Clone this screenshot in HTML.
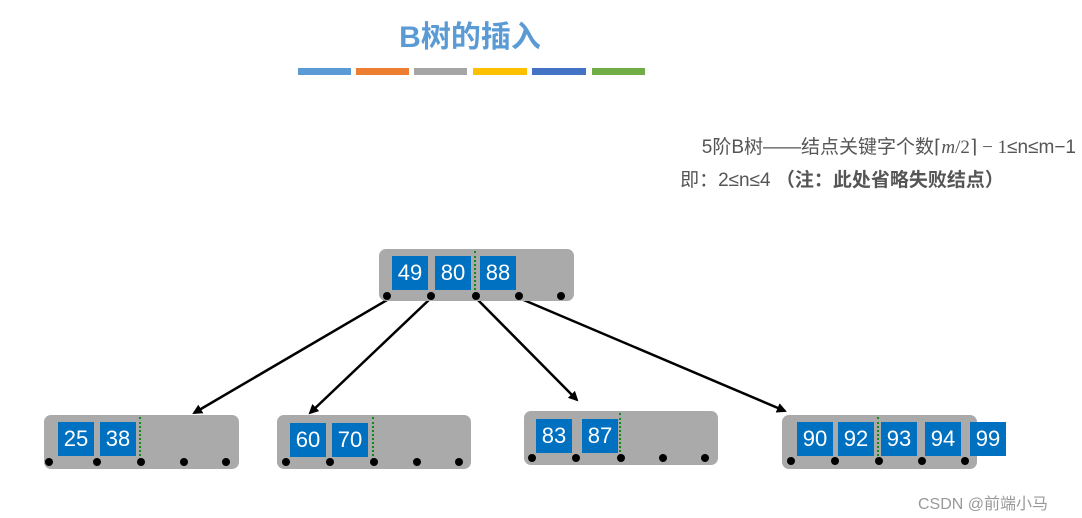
<!DOCTYPE html>
<html><head><meta charset="utf-8"><style>
body{margin:0;width:1082px;height:518px;background:#fff;position:relative;overflow:hidden;font-family:"Liberation Sans","Noto Sans CJK SC",sans-serif}
.a{position:absolute}
.box{position:absolute;background:#aaaaaa;border-radius:7px}
.k{position:absolute;width:36px;height:34px;background:#0070c0;color:#fff;font-size:22px;line-height:34px;text-align:center}
.d{position:absolute;width:8px;height:8px;border-radius:50%;background:#000}
.v{position:absolute;width:0;border-left:2px dotted #138a13}
.bar{position:absolute;top:68px;height:7px}
</style></head><body>
<div class="a" style="left:370px;top:12px;width:200px;text-align:center;font-size:30px;font-weight:bold;color:#5b9bd5">B树的插入</div>
<div class="bar" style="left:298px;width:53px;background:#5b9bd5"></div>
<div class="bar" style="left:356px;width:53px;background:#ed7d31"></div>
<div class="bar" style="left:414px;width:53px;background:#a5a5a5"></div>
<div class="bar" style="left:473px;width:54px;background:#ffc000"></div>
<div class="bar" style="left:532px;width:54px;background:#4472c4"></div>
<div class="bar" style="left:592px;width:53px;background:#70ad47"></div>
<div class="a" style="left:560px;top:132px;width:516px;text-align:right;font-size:19px;color:#555;white-space:nowrap">5阶B树——结点关键字个数<span style="font-family:'Liberation Serif',serif">⌈<i>m</i>/2⌉ − 1</span>≤n≤m−1</div>
<div class="a" style="left:600px;top:165px;width:484px;text-align:center;font-size:19px;color:#555;white-space:nowrap">即：2≤n≤4 <b>（注：此处省略失败结点）</b></div>

<svg class="a" style="left:0;top:0" width="1082" height="518">
<defs><marker id="m" markerWidth="10" markerHeight="10" refX="8" refY="5" orient="auto" markerUnits="userSpaceOnUse"><path d="M0,0 L10,5 L0,10 z" fill="#000"/></marker></defs>
<g stroke="#000" stroke-width="2.5" marker-end="url(#m)">
<line x1="387" y1="300" x2="194" y2="413"/>
<line x1="431" y1="298" x2="310" y2="413"/>
<line x1="476" y1="298" x2="577" y2="400"/>
<line x1="519" y1="298" x2="785" y2="411"/>
</g></svg>

<div class="box" style="left:379px;top:249px;width:195px;height:52px"></div>
<div class="k" style="left:392px;top:256px">49</div><div class="k" style="left:435px;top:256px">80</div><div class="k" style="left:480px;top:256px">88</div>
<div class="v" style="left:474px;top:251px;height:43px"></div>
<div class="d" style="left:383px;top:292px"></div><div class="d" style="left:427px;top:292px"></div><div class="d" style="left:472px;top:292px"></div><div class="d" style="left:515px;top:292px"></div><div class="d" style="left:557px;top:292px"></div>

<div class="box" style="left:44px;top:415px;width:195px;height:54px"></div>
<div class="k" style="left:58px;top:422px">25</div><div class="k" style="left:100px;top:422px">38</div>
<div class="v" style="left:139px;top:417px;height:43px"></div>
<div class="d" style="left:45px;top:458px"></div><div class="d" style="left:93px;top:458px"></div><div class="d" style="left:137px;top:458px"></div><div class="d" style="left:180px;top:458px"></div><div class="d" style="left:222px;top:458px"></div>

<div class="box" style="left:277px;top:415px;width:194px;height:54px"></div>
<div class="k" style="left:290px;top:423px">60</div><div class="k" style="left:332px;top:423px">70</div>
<div class="v" style="left:372px;top:417px;height:43px"></div>
<div class="d" style="left:282px;top:458px"></div><div class="d" style="left:326px;top:458px"></div><div class="d" style="left:370px;top:458px"></div><div class="d" style="left:413px;top:458px"></div><div class="d" style="left:455px;top:458px"></div>

<div class="box" style="left:524px;top:411px;width:194px;height:54px"></div>
<div class="k" style="left:536px;top:419px">83</div><div class="k" style="left:582px;top:419px">87</div>
<div class="v" style="left:619px;top:413px;height:43px"></div>
<div class="d" style="left:528px;top:454px"></div><div class="d" style="left:572px;top:454px"></div><div class="d" style="left:617px;top:454px"></div><div class="d" style="left:659px;top:454px"></div><div class="d" style="left:701px;top:454px"></div>

<div class="box" style="left:782px;top:415px;width:195px;height:54px"></div>
<div class="k" style="left:797px;top:422px">90</div><div class="k" style="left:838px;top:422px">92</div><div class="k" style="left:881px;top:422px">93</div><div class="k" style="left:925px;top:422px">94</div><div class="k" style="left:970px;top:422px">99</div>
<div class="v" style="left:877px;top:417px;height:43px"></div>
<div class="d" style="left:787px;top:457px"></div><div class="d" style="left:831px;top:457px"></div><div class="d" style="left:875px;top:457px"></div><div class="d" style="left:918px;top:457px"></div><div class="d" style="left:961px;top:457px"></div>

<div class="a" style="left:918px;top:490px;font-size:16px;color:#999">CSDN @前端小马</div>
</body></html>
